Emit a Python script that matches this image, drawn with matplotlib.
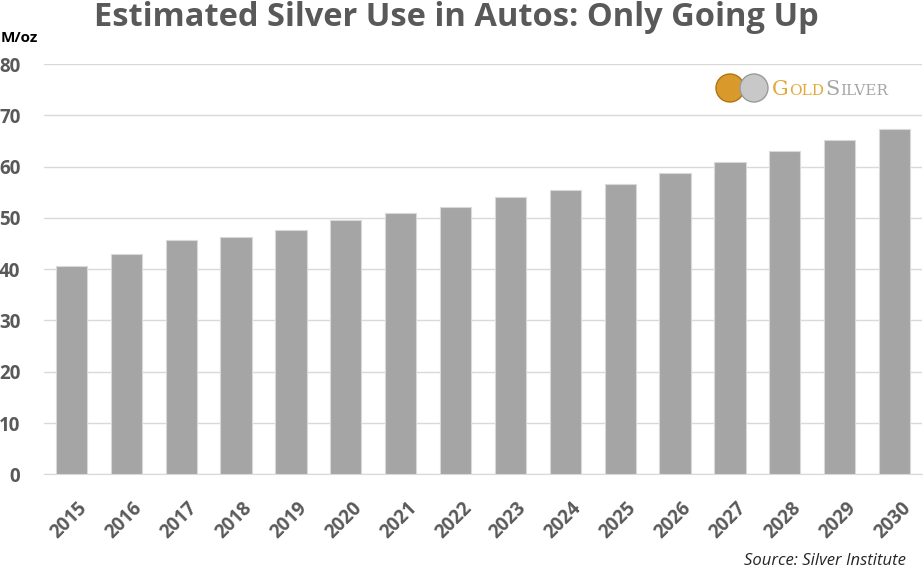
import matplotlib.pyplot as plt
from matplotlib.patches import Circle
from matplotlib.transforms import ScaledTranslation

# Silver demand from autos, million ounces
years = ['2015', '2016', '2017', '2018', '2019', '2020', '2021', '2022',
         '2023', '2024', '2025', '2026', '2027', '2028', '2029', '2030']
silver_moz = [40.6, 43.0, 45.7, 46.3, 47.7, 49.6, 51.0, 52.1,
              54.0, 55.5, 56.6, 58.7, 60.8, 63.1, 65.2, 67.4]
y_ticks = [0, 10, 20, 30, 40, 50, 60, 70, 80]

W, H = 923, 571
fig = plt.figure(figsize=(W / 100, H / 100), dpi=100)
ax = fig.add_axes([44 / W, 1 - 474.3 / H, 878 / W, (474.3 - 64) / H])

ax.bar(range(len(years)), silver_moz, width=0.57, color='#a5a5a5',
       edgecolor='#d9d9d9', linewidth=0.8, zorder=3)

ax.set_ylim(0, 80)
ax.set_xlim(-0.5, len(years) - 0.5)
ax.set_yticks(y_ticks)
ax.set_xticks(range(len(years)))
ax.set_xticklabels(years, rotation=45, ha='right', rotation_mode='anchor')
ax.yaxis.grid(True, color='#d9d9d9', linewidth=1, zorder=0)
for s in ['top', 'right', 'left']:
    ax.spines[s].set_visible(False)
ax.spines['bottom'].set_color('#d9d9d9')
ax.tick_params(length=0, labelsize=13.5, labelcolor='#595959')
ax.tick_params(axis='x', pad=17)
ax.tick_params(axis='y', pad=17)
shift = ScaledTranslation(6 / 100, 0, fig.dpi_scale_trans)
for lab in ax.get_xticklabels() + ax.get_yticklabels():
    lab.set_fontfamily('Open Sans')
    lab.set_fontweight('bold')
for lab in ax.get_xticklabels():
    lab.set_transform(lab.get_transform() + shift)

fig.text(456 / W, 1 - 17 / H, 'Estimated Silver Use in Autos: Only Going Up',
         ha='center', va='center', fontsize=23.5, fontweight='bold',
         family='Open Sans', color='#595959')
fig.text(1 / W, 1 - 38 / H, 'M/oz', ha='left', va='center', fontsize=11,
         fontweight='bold', family='Open Sans', color='#000000')
fig.text(906 / W, 1 - 561 / H, 'Source: Silver Institute', ha='right',
         va='center', fontsize=12, style='italic', family='Open Sans',
         color='#262626')

# logo: two coins and the name
for cx, col, edge in [(730, '#d99a2b', '#b07214'), (754, '#c8c8c8', '#9a9a9a')]:
    fig.add_artist(Circle((cx, H - 88), 14, transform=None,
                          facecolor=col, edgecolor=edge, linewidth=1))
fig.canvas.draw()
r = fig.canvas.get_renderer()
x = 772
for txt, size, col in [('G', 15, '#e3a93a'), ('OLD', 11, '#e3a93a'),
                       ('S', 15, '#a6a6a6'), ('ILVER', 11, '#a6a6a6')]:
    t = fig.text(x / W, 1 - 95 / H, txt, ha='left', va='baseline',
                 fontsize=size, family='DejaVu Serif', color=col)
    x = t.get_window_extent(r).x1 + (2 if txt == 'OLD' else 0)

fig.savefig('out.png', dpi=100)
